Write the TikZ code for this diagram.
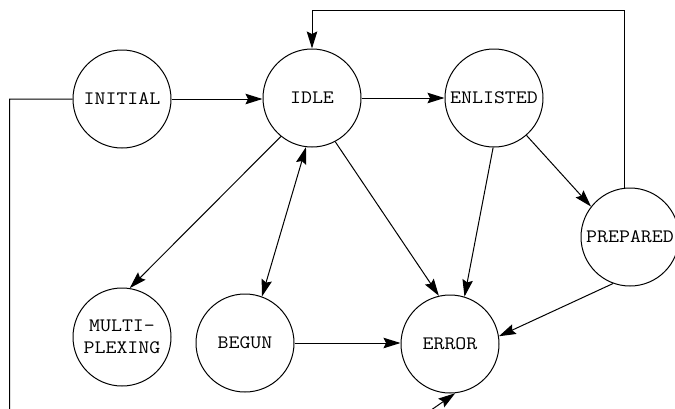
\documentclass[tikz,border=0pt]{standalone}
\usepackage{fontspec}
\newfontfamily\statefont{Latin Modern Mono}[FakeStretch=1.12]
\usetikzlibrary{arrows.meta}

\tikzset{
  state/.style={draw, circle, line width=1pt, minimum size=98pt, inner sep=0pt,
    align=center, font=\statefont\fontsize{19}{22}\selectfont},
  tip/.tip={Stealth[length=17pt,width=10.5pt,inset=2.5pt]},
  trans/.style={line width=1pt, -tip},
  both/.style={line width=1pt, tip-tip}
}

\begin{document}
\begin{tikzpicture}[x=1pt,y=-1pt]
  \useasboundingbox (0,0) rectangle (675,408);
  \clip (0,0) rectangle (675,408);

  % states
  \node[state] (initial)  at (122,99)  {INITIAL};
  \node[state] (idle)     at (312,98)  {IDLE};
  \node[state] (enlisted) at (494,98)  {ENLISTED};
  \node[state] (prepared) at (630,237) {PREPARED};
  \node[state] (multi)    at (122,337) {MULTI-\\PLEXING};
  \node[state] (begun)    at (245,343) {BEGUN};
  \node[state] (error)    at (450,344) {ERROR};

  % routing points of the long connectors
  \coordinate (loop)  at (312,10);
  \coordinate (lbot)  at (9.5,429);
  \coordinate (bturn) at (404,429);

  % transitions
  \draw[trans] (initial.east) -- (initial.east -| idle.west);
  \draw[trans] (idle.east) -- (enlisted.west);
  \draw[trans] (enlisted.-49) -- (prepared.142);
  \draw[trans] (enlisted.-91) -- (error.73);
  \draw[trans] (prepared.-110) -- (error.9.5);
  \draw[trans] (idle.-129) -- (multi.81);
  \draw[both]  (idle.-97) -- (begun.70);
  \draw[trans] (idle.-62) -- (error.103);
  \draw[trans] (begun.east) -- (begun.east -| error.west);
  \draw[trans] (prepared.96) |- (loop) -- (idle.north);
  \draw[trans] (initial.west) -| (lbot) -- (bturn) -- (error.-84);
\end{tikzpicture}
\end{document}
